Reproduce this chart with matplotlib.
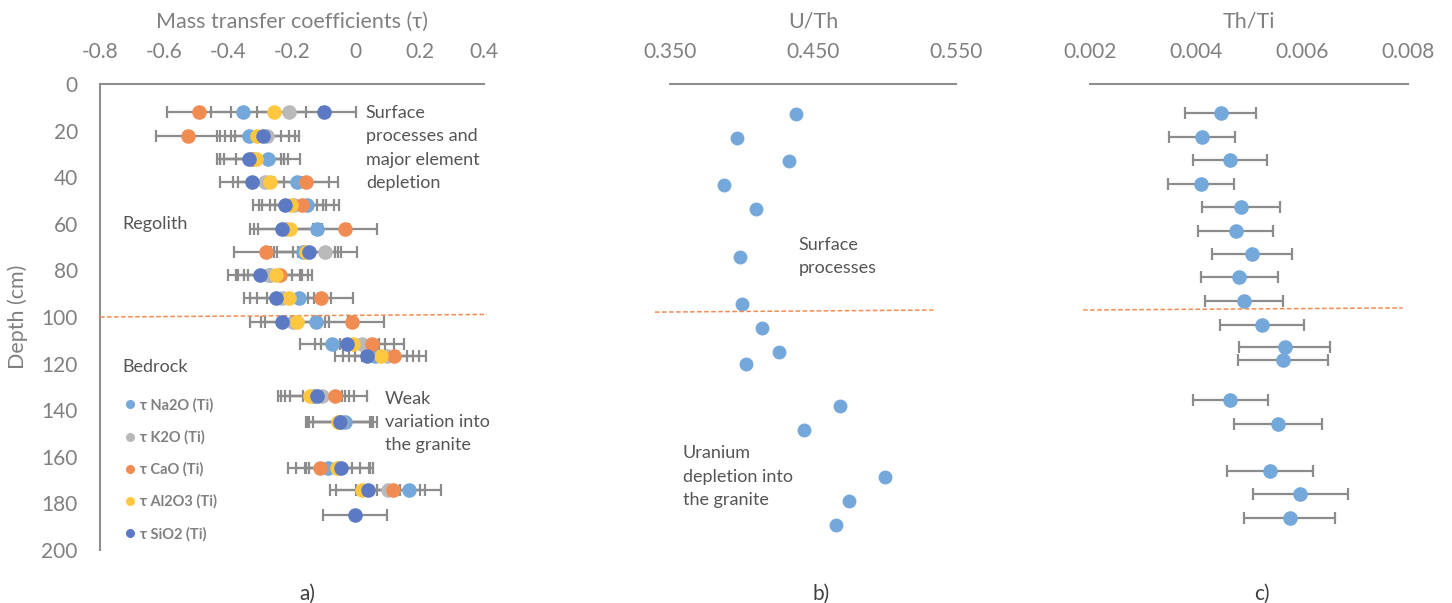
import matplotlib
matplotlib.use('Agg')  # no display
import matplotlib.pyplot as plt
import numpy as np
from matplotlib.ticker import FuncFormatter

plt.rcParams['font.family'] = ['Lato', 'DejaVu Sans']
plt.rcParams['axes.unicode_minus'] = False

nan = np.nan

# ---- panel a: mass transfer coefficients (tau), one row per sample depth
tau_depth = [12.2, 22.3, 32.2, 41.9, 51.9, 62.4, 71.9, 82.0, 92.0, 102.0,
             111.7, 116.7, 133.9, 144.9, 164.6, 174.2, 185.0]
tau_na2o = [-0.352, -0.334, -0.273, -0.183, -0.151, -0.122, -0.164, -0.268, -0.177,
            -0.124, -0.073, 0.060, -0.133, -0.033, -0.088, 0.168, nan]
tau_k2o = [-0.209, -0.278, -0.323, -0.284, -0.193, -0.218, -0.096, -0.274, -0.231,
           -0.197, 0.019, 0.097, -0.106, -0.046, -0.055, 0.102, nan]
tau_cao = [-0.490, -0.524, -0.323, -0.155, -0.167, -0.033, -0.281, -0.237, -0.108,
           -0.011, 0.051, 0.121, -0.065, -0.052, -0.112, 0.118, nan]
tau_al2o3 = [-0.256, -0.308, -0.313, -0.268, -0.202, -0.206, -0.155, -0.249, -0.210,
             -0.183, -0.009, 0.078, -0.143, -0.055, -0.058, 0.019, nan]
tau_sio2 = [-0.099, -0.289, -0.334, -0.325, -0.220, -0.230, -0.145, -0.299, -0.249,
            -0.232, -0.028, 0.034, -0.122, -0.049, -0.047, 0.038, -0.002]
tau_err = 0.10  # error bars read as +/- 0.1 on every point

series_names = ['τ Na2O (Ti)', 'τ K2O (Ti)', 'τ CaO (Ti)', 'τ Al2O3 (Ti)', 'τ SiO2 (Ti)']
series_colors = ['#74A7DA', '#B9B9B9', '#F08C52', '#FFC740', '#5B7AC3']

# ---- panel b: U/Th
uth_depth = [12.9, 23.0, 33.2, 43.5, 53.6, 74.1, 94.3, 104.9, 115.0, 120.3,
             138.2, 148.5, 168.8, 179.1, 189.3]
uth = [0.438, 0.397, 0.433, 0.388, 0.410, 0.399, 0.400, 0.414, 0.426, 0.403,
       0.469, 0.444, 0.500, 0.475, 0.466]

# ---- panel c: Th/Ti with error bars
thti_depth = [12.6, 22.6, 32.6, 42.8, 52.8, 62.9, 73.0, 83.0, 93.0, 103.4,
              113.0, 118.5, 135.6, 145.8, 166.0, 176.1, 186.1]
thti = [0.00447, 0.00411, 0.00464, 0.00409, 0.00485, 0.00475, 0.00506, 0.00482, 0.00491,
        0.00524, 0.00567, 0.00564, 0.00465, 0.00555, 0.00540, 0.00597, 0.00577]
thti_err = [0.00067, 0.00062, 0.00070, 0.00062, 0.00073, 0.00071, 0.00076, 0.00073, 0.00074,
            0.00079, 0.00085, 0.00085, 0.00070, 0.00083, 0.00081, 0.00090, 0.00086]

# regolith / bedrock boundary drawn by hand in each panel (x range, depth at ends)
boundary_a = ([-0.8, 0.411], [100.0, 98.9])
boundary_b = ([0.3395, 0.536], [97.9, 97.0])
boundary_c = ([0.00187, 0.0079], [97.0, 96.1])

AXIS_GREY = '#8E8E8E'
TICK_GREY = '#808080'
TEXT_GREY = '#555555'
ERR_GREY = '#8C8C8C'
BLUE = '#74A7DA'
DASH_ORANGE = '#F08C52'

W, H = 1452, 603
fig = plt.figure(figsize=(W / 100, H / 100), dpi=100)


def make_axes(x0, x1):
    ax = fig.add_axes([x0 / W, 53 / H, (x1 - x0) / W, 466 / H])
    ax.set_ylim(200, 0)
    ax.xaxis.tick_top()
    ax.xaxis.set_label_position('top')
    for side in ['right', 'bottom', 'left']:
        ax.spines[side].set_visible(False)
    ax.spines['top'].set_color(AXIS_GREY)
    ax.spines['top'].set_linewidth(1.5)
    ax.tick_params(axis='both', length=0, labelsize=15, labelcolor=TICK_GREY)
    ax.tick_params(axis='x', pad=16)
    ax.set_yticks([])
    return ax


def boundary(ax, b):
    ax.plot(b[0], b[1], color=DASH_ORANGE, lw=1.1, dashes=(3, 1.6), clip_on=False, zorder=4)


def note(ax, x, y, s):
    ax.text(x, y, s, fontsize=13, color=TEXT_GREY, va='top', ha='left', linespacing=1.55)


# ---------------- panel a
ax_a = make_axes(100, 483.5)
ax_a.set_xlim(-0.8, 0.4)
ax_a.set_xticks(np.arange(-0.8, 0.41, 0.2))
ax_a.xaxis.set_major_formatter(FuncFormatter(lambda v, p: '0' if abs(v) < 1e-9 else f'{v:.1f}'))
ax_a.spines['left'].set_visible(True)
ax_a.spines['left'].set_color(AXIS_GREY)
ax_a.spines['left'].set_linewidth(1.5)
ax_a.set_yticks(range(0, 201, 20))
ax_a.tick_params(axis='y', pad=16)
ax_a.set_xlabel('Mass transfer coefficients (τ)', fontsize=15.5, color=TICK_GREY, labelpad=10)
ax_a.set_ylabel('Depth (cm)', fontsize=15.5, color=TICK_GREY, labelpad=10)

tau_series = [tau_na2o, tau_k2o, tau_cao, tau_al2o3, tau_sio2]
for vals, name, col in zip(tau_series, series_names, series_colors):
    ax_a.errorbar(vals, tau_depth, xerr=tau_err, fmt='none', ecolor=ERR_GREY,
                  elinewidth=1.6, capsize=4.5, capthick=1.6, zorder=2)
for i, (vals, name, col) in enumerate(zip(tau_series, series_names, series_colors)):
    ax_a.plot(vals, tau_depth, 'o', ms=10.5, color=col, mec='none', label=name, zorder=3 + i)

leg = ax_a.legend(loc='upper left', bbox_to_anchor=(0.066, 0.326), frameon=False,
                  markerscale=0.62, handlelength=0.7, handletextpad=0.3, labelspacing=1.21,
                  borderpad=0, borderaxespad=0,
                  prop={'family': ['Lato', 'DejaVu Sans'], 'weight': 'bold', 'size': 10.5})
for t in leg.get_texts():
    t.set_color(TICK_GREY)

boundary(ax_a, boundary_a)
note(ax_a, 0.032, 9.1, 'Surface\nprocesses and\nmajor element\ndepletion')
ax_a.text(-0.731, 60, 'Regolith', fontsize=13, color=TEXT_GREY, va='center', ha='left')
ax_a.text(-0.731, 121.5, 'Bedrock', fontsize=13, color=TEXT_GREY, va='center', ha='left')
note(ax_a, 0.092, 131.6, 'Weak\nvariation into\nthe granite')

# ---------------- panel b
ax_b = make_axes(670, 956)
ax_b.set_xlim(0.35, 0.55)
ax_b.set_xticks([0.35, 0.45, 0.55])
ax_b.xaxis.set_major_formatter(FuncFormatter(lambda v, p: f'{v:.3f}'))
ax_b.set_xlabel('U/Th', fontsize=15.5, color=TICK_GREY, labelpad=10)
ax_b.plot(uth, uth_depth, 'o', ms=10, color=BLUE, mec='none', zorder=3)
boundary(ax_b, boundary_b)
note(ax_b, 0.440, 65.7, 'Surface\nprocesses')
note(ax_b, 0.359, 155.1, 'Uranium\ndepletion into\nthe granite')

# ---------------- panel c
ax_c = make_axes(1090, 1408)
ax_c.set_xlim(0.002, 0.008)
ax_c.set_xticks([0.002, 0.004, 0.006, 0.008])
ax_c.xaxis.set_major_formatter(FuncFormatter(lambda v, p: f'{v:.3f}'))
ax_c.set_xlabel('Th/Ti', fontsize=15.5, color=TICK_GREY, labelpad=10)
ax_c.errorbar(thti, thti_depth, xerr=thti_err, fmt='none', ecolor=ERR_GREY,
              elinewidth=1.6, capsize=4.5, capthick=1.6, zorder=2)
ax_c.plot(thti, thti_depth, 'o', ms=10.5, color=BLUE, mec='none', zorder=3)
boundary(ax_c, boundary_c)

# panel letters
for ax, letter, xf in [(ax_a, 'a)', 0.54), (ax_b, 'b)', 0.53), (ax_c, 'c)', 0.54)]:
    ax.text(xf, -0.095, letter, transform=ax.transAxes, fontsize=15, color='#404040',
            ha='center', va='center')

fig.savefig('out.png', dpi=100)
